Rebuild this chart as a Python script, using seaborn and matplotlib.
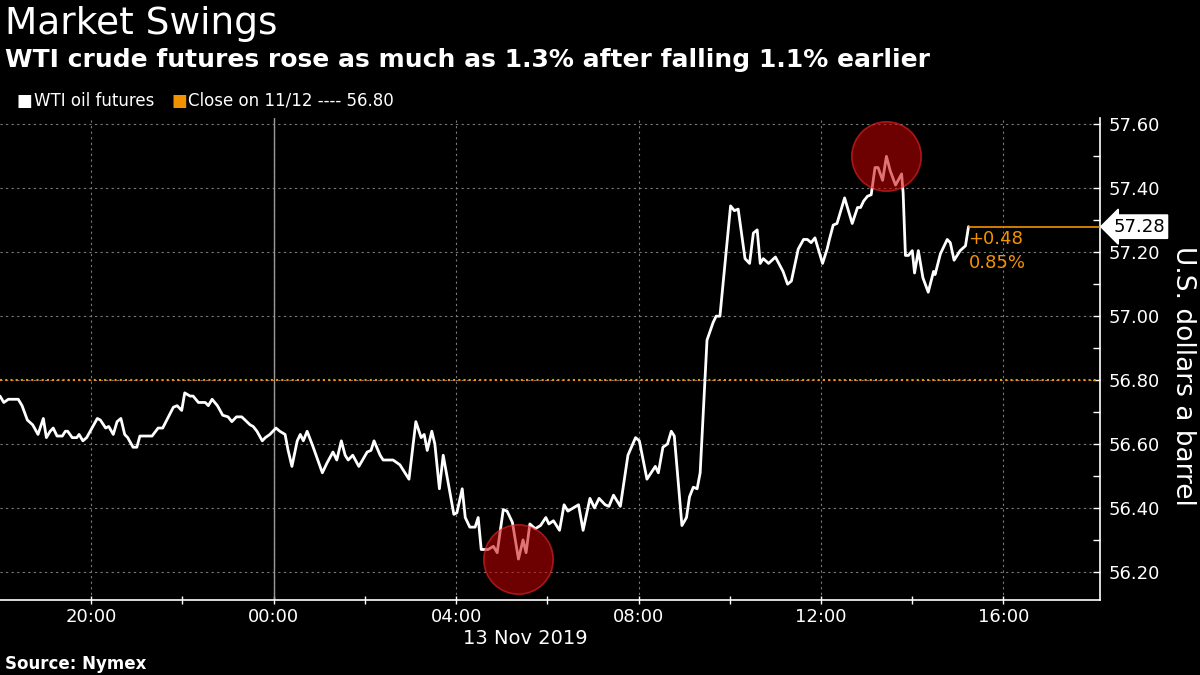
import pandas as pd
import matplotlib.pyplot as plt
import matplotlib.dates as mdates
import seaborn as sns

# WTI oil futures, 12-13 Nov 2019
times = [
    "18:00", "18:05", "18:11", "18:24", "18:29", "18:36", "18:43", "18:50", "18:57", "19:01",
    "19:06", "19:10", "19:15", "19:22", "19:26", "19:29", "19:35", "19:41", "19:44", "19:49",
    "19:54", "20:08", "20:12", "20:19", "20:23", "20:29", "20:34", "20:39", "20:44", "20:48",
    "20:55", "21:00", "21:04", "21:20", "21:28", "21:34", "21:48", "21:53", "21:59", "22:03",
    "22:10", "22:14", "22:21", "22:30", "22:34", "22:39", "22:46", "22:53", "23:00", "23:05",
    "23:11", "23:18", "23:29", "23:33", "23:38", "23:45", "23:49", "23:55",
    "00:03", "00:08", "00:15", "00:19", "00:24", "00:31", "00:35", "00:39", "00:44", "00:52",
    "01:04", "01:10", "01:18", "01:23", "01:29", "01:34", "01:38", "01:44", "01:52", "02:03",
    "02:08", "02:12", "02:20", "02:24", "02:37", "02:46", "02:58", "03:07", "03:14", "03:18",
    "03:22", "03:28", "03:32", "03:38", "03:43", "03:57", "04:01", "04:08", "04:12", "04:18",
    "04:25", "04:29", "04:33", "04:42", "04:49", "04:54", "05:02", "05:07", "05:14", "05:22",
    "05:28", "05:32", "05:37", "05:44", "05:51", "05:58", "06:02", "06:08", "06:16", "06:22",
    "06:27", "06:34", "06:41", "06:47", "06:56", "07:02", "07:08", "07:16", "07:21", "07:27",
    "07:36", "07:46", "07:56", "08:01", "08:11", "08:22", "08:26", "08:32", "08:38", "08:43",
    "08:47", "08:57", "09:03", "09:07", "09:12", "09:17", "09:21", "09:30", "09:38", "09:42",
    "09:47", "10:01", "10:06", "10:11", "10:20", "10:26", "10:31", "10:36", "10:40", "10:44",
    "10:51", "11:00", "11:10", "11:16", "11:21", "11:30", "11:37", "11:42", "11:47", "11:52",
    "12:02", "12:08", "12:11", "12:16", "12:21", "12:31", "12:41", "12:48", "12:52", "12:56",
    "13:01", "13:06", "13:11", "13:15", "13:21", "13:26", "13:31", "13:38", "13:46", "13:48",
    "13:51", "13:55", "14:00", "14:03", "14:08", "14:14", "14:21", "14:28", "14:30", "14:37",
    "14:46", "14:50", "14:55", "15:03", "15:10", "15:14",
]
prices = [
    56.75, 56.73, 56.74, 56.74, 56.72, 56.675, 56.66, 56.63, 56.68, 56.62,
    56.64, 56.65, 56.625, 56.625, 56.64, 56.64, 56.62, 56.62, 56.63, 56.61,
    56.62, 56.68, 56.675, 56.65, 56.655, 56.63, 56.67, 56.68, 56.63, 56.62,
    56.59, 56.59, 56.625, 56.625, 56.65, 56.65, 56.715, 56.72, 56.705, 56.76,
    56.75, 56.75, 56.73, 56.73, 56.72, 56.74, 56.72, 56.69, 56.685, 56.67,
    56.685, 56.685, 56.66, 56.655, 56.64, 56.61, 56.62, 56.63,
    56.65, 56.64, 56.63, 56.58, 56.53, 56.61, 56.63, 56.61, 56.64, 56.59,
    56.51, 56.54, 56.575, 56.55, 56.61, 56.565, 56.55, 56.565, 56.53, 56.575,
    56.58, 56.61, 56.565, 56.55, 56.55, 56.535, 56.49, 56.67, 56.62, 56.63,
    56.58, 56.64, 56.60, 56.46, 56.565, 56.38, 56.385, 56.46, 56.37, 56.34,
    56.34, 56.37, 56.27, 56.27, 56.28, 56.26, 56.395, 56.39, 56.355, 56.24,
    56.30, 56.26, 56.35, 56.335, 56.345, 56.37, 56.35, 56.36, 56.33, 56.41,
    56.39, 56.40, 56.41, 56.33, 56.43, 56.40, 56.43, 56.41, 56.405, 56.44,
    56.405, 56.565, 56.62, 56.61, 56.49, 56.53, 56.51, 56.59, 56.60, 56.64,
    56.625, 56.345, 56.37, 56.435, 56.465, 56.46, 56.51, 56.925, 56.98, 57.00,
    57.00, 57.345, 57.33, 57.335, 57.18, 57.165, 57.26, 57.27, 57.165, 57.18,
    57.165, 57.185, 57.14, 57.10, 57.11, 57.21, 57.24, 57.24, 57.23, 57.245,
    57.165, 57.21, 57.24, 57.285, 57.29, 57.37, 57.29, 57.34, 57.34, 57.36,
    57.375, 57.38, 57.465, 57.465, 57.425, 57.50, 57.455, 57.41, 57.445, 57.385,
    57.19, 57.19, 57.205, 57.135, 57.205, 57.12, 57.075, 57.14, 57.13, 57.195,
    57.24, 57.23, 57.175, 57.205, 57.22, 57.28,
]
prev_close = 56.80
last_price = 57.28
change_abs = "+0.48"
change_pct = "0.85%"

# highlighted swings (low and high)
swing_times = ["2019-11-13 05:22", "2019-11-13 13:25"]
swing_prices = [56.24, 57.50]

y_ticks = [56.20, 56.40, 56.60, 56.80, 57.00, 57.20, 57.40, 57.60]

# times before 18:00 are on Nov 13, the rest on Nov 12
stamps = [("2019-11-12 " if int(t[:2]) >= 18 else "2019-11-13 ") + t for t in times]
df = pd.DataFrame({"time": pd.to_datetime(stamps), "price": prices})

sns.set_theme(style="dark")
plt.rcParams["font.family"] = ["DejaVu Sans"]

ORANGE = "#f39200"
GRID = "#7a7a7a"

fig = plt.figure(figsize=(12, 6.75), dpi=100, facecolor="black")
ax = fig.add_axes([0.0, 0.1111, 0.9167, 0.7141])
ax.set_facecolor("black")

sns.lineplot(data=df, x="time", y="price", ax=ax, color="white", linewidth=2, zorder=3)

# swing circles
ax.scatter(pd.to_datetime(swing_times), swing_prices, s=2500, color="#c80000",
           alpha=0.55, edgecolors="#ff2a2a", linewidths=1.2, zorder=4)

# previous close
ax.axhline(prev_close, color=ORANGE, linestyle=(0, (1, 1.5)), linewidth=1.5, zorder=2)

# last price line to axis
t_last = df["time"].iloc[-1]
x_end = pd.Timestamp("2019-11-13 18:07")
ax.plot([t_last, x_end], [last_price, last_price], color=ORANGE, linewidth=1.2, zorder=3)

ax.set_xlim(pd.Timestamp("2019-11-12 18:00"), x_end)
ax.set_ylim(56.112, 57.62)

ax.xaxis.set_major_locator(mdates.HourLocator(byhour=[0, 4, 8, 12, 16, 20]))
ax.xaxis.set_minor_locator(mdates.HourLocator(byhour=[2, 6, 10, 14, 22]))
ax.xaxis.set_major_formatter(mdates.DateFormatter("%H:%M"))

ax.yaxis.tick_right()
ax.set_yticks(y_ticks)
ax.set_yticklabels([f"{v:.2f}" for v in y_ticks])
ax.set_yticks([v + 0.1 for v in y_ticks[:-1]], minor=True)
ax.yaxis.set_label_position("right")

ax.tick_params(axis="x", which="both", colors="white", labelsize=13, length=6, width=1,
               direction="inout", pad=3, bottom=True)
ax.tick_params(axis="y", which="both", colors="white", labelsize=13, length=5, width=1,
               direction="in", pad=6, right=True, left=False)

ax.grid(True, which="major", color=GRID, linestyle=(0, (2, 3)), linewidth=0.8)
ax.axvline(pd.Timestamp("2019-11-13 00:00"), color="#9a9a9a", linewidth=1, zorder=1)

for side in ["top", "left"]:
    ax.spines[side].set_visible(False)
for side in ["bottom", "right"]:
    ax.spines[side].set_color("white")
    ax.spines[side].set_linewidth(1.2)

ax.set_xlabel("")
ax.set_ylabel("U.S. dollars a barrel", color="white", fontsize=19, rotation=270,
              va="center")
ax.yaxis.set_label_coords(1.075, 0.465)

# last price tag
ax.text(1.012, last_price, f"{last_price:.2f}", transform=ax.get_yaxis_transform(),
        color="black", fontsize=13, va="center", ha="left",
        bbox=dict(boxstyle="larrow,pad=0.15", fc="white", ec="white"), zorder=6,
        clip_on=False)
ax.text(t_last, last_price - 0.04, change_abs, color=ORANGE, fontsize=13,
        va="center", ha="left")
ax.text(t_last, last_price - 0.115, change_pct, color=ORANGE, fontsize=13,
        va="center", ha="left")

# titles
fig.text(0.004, 0.965, "Market Swings", color="white", fontsize=27, va="center")
fig.text(0.004, 0.911, "WTI crude futures rose as much as 1.3% after falling 1.1% earlier",
         color="white", fontsize=18, fontweight="bold", va="center")

# legend
fig.text(0.014, 0.851, "\u25a0", color="white", fontsize=12, va="center")
fig.text(0.028, 0.851, "WTI oil futures", color="white", fontsize=12, va="center")
fig.text(0.143, 0.851, "\u25a0", color=ORANGE, fontsize=12, va="center")
fig.text(0.157, 0.851, "Close on 11/12 ---- 56.80", color="white", fontsize=12,
         va="center")

fig.text(0.4375, 0.054, "13 Nov 2019", color="white", fontsize=14, ha="center",
         va="center")
fig.text(0.004, 0.017, "Source: Nymex", color="white", fontsize=12, fontweight="bold",
         va="center")

fig.savefig("out.png", dpi=100, facecolor="black")
